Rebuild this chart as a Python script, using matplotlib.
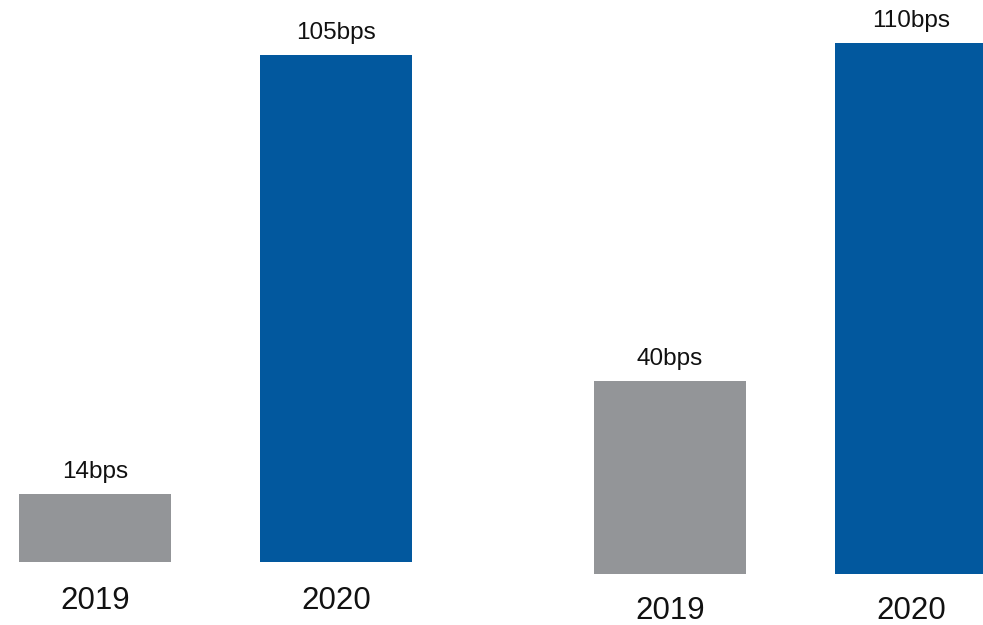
import matplotlib
matplotlib.use("Agg")
import matplotlib.pyplot as plt

plt.rcParams['font.family'] = ['Liberation Sans', 'DejaVu Sans']

# Data
years = ["2019", "2020"]
left_values = [14, 105]
right_values = [40, 110]
unit = "bps"

GREY = "#939598"
BLUE = "#02589E"
colors = [GREY, BLUE]

W, H = 983, 625
fig = plt.figure(figsize=(W / 100, H / 100), dpi=100)

PX_PER_UNIT = 4.83   # vertical pixels per bps
PX_PER_CAT = 241     # horizontal pixels between bar centres
BAR_W = 152 / PX_PER_CAT


def panel(x0, x1, base_px, first_center_px, values, pad_pt):
    """Axes spanning pixel columns x0..x1 with baseline at base_px from top."""
    bottom = H - base_px
    ax = fig.add_axes([x0 / W, bottom / H, (x1 - x0) / W, (H - bottom) / H])
    lo = -(first_center_px - x0) / PX_PER_CAT
    hi = lo + (x1 - x0) / PX_PER_CAT
    ax.set_xlim(lo, hi)
    ax.set_ylim(0, base_px / PX_PER_UNIT)
    bars = ax.bar(range(len(values)), values, width=BAR_W, color=colors)
    ax.bar_label(bars, labels=[f"{v}{unit}" for v in values],
                 padding=8, fontsize=17.5, color="#111111")
    ax.set_xticks(range(len(values)))
    ax.set_xticklabels(years, fontsize=22.5, color="#111111")
    ax.tick_params(axis="x", length=0, pad=pad_pt)
    ax.set_yticks([])
    for s in ax.spines.values():
        s.set_visible(False)
    ax.patch.set_alpha(0)
    return ax


panel(0, 491, 562, 95, left_values, 17.0)
panel(491, 983, 574, 670, right_values, 15.5)

fig.savefig("out.png", dpi=100, facecolor="white")
